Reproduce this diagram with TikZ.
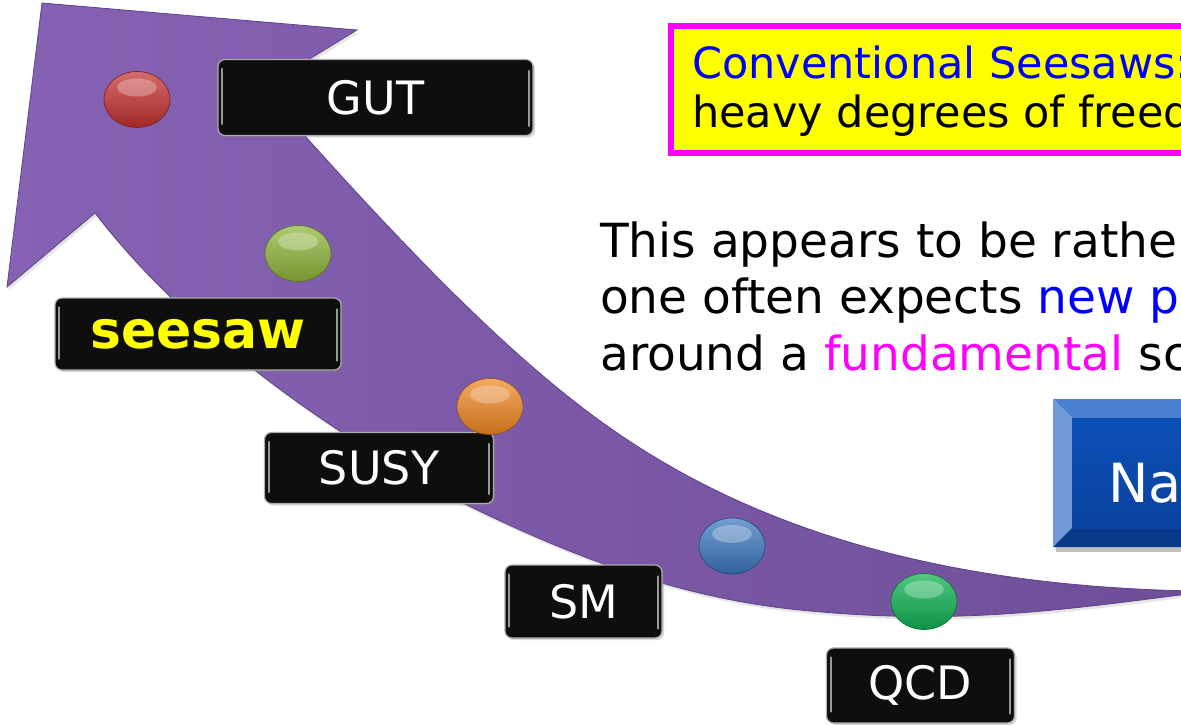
\documentclass[tikz,border=0pt]{standalone}
\usepackage{fontspec}
\setmainfont{DejaVu Sans}
\usetikzlibrary{shapes.geometric,shadows}
\definecolor{purpL}{RGB}{134,98,180}
\definecolor{purpR}{RGB}{110,78,152}
\definecolor{purpE}{RGB}{96,66,136}
\definecolor{dotred}{RGB}{196,50,48}
\definecolor{dotlime}{RGB}{142,182,58}
\definecolor{dotorange}{RGB}{240,136,36}
\definecolor{dotblue}{RGB}{60,120,192}
\definecolor{dotgreen}{RGB}{14,178,82}
\definecolor{boxblack}{RGB}{14,14,14}
\definecolor{pureblue}{RGB}{0,0,255}
\definecolor{puremag}{RGB}{255,0,255}
\definecolor{pureyel}{RGB}{255,255,0}
\definecolor{btnface}{RGB}{12,80,182}
\definecolor{btnfaceB}{RGB}{10,66,160}
\definecolor{btntop}{RGB}{74,128,208}
\definecolor{btnleft}{RGB}{112,153,213}
\definecolor{btnbot}{RGB}{8,56,136}
\tikzset{
  lbl/.style={draw=gray!65, line width=1.2, fill=boxblack, rounded corners=7,
    text=white, font=\fontsize{46}{50}\selectfont, inner sep=0,
    drop shadow={opacity=.3, shadow xshift=2pt, shadow yshift=-2pt}},
  dot/.style={ellipse, inner sep=0, minimum width=66, minimum height=56,
    top color=#1!72!white, bottom color=#1!82!black, draw=#1!60!black, line width=0.6},
  bodytext/.style={anchor=base west, inner sep=0, font=\fontsize{47}{56}\selectfont},
  boxtext/.style={anchor=base west, inner sep=0, font=\fontsize{43}{50}\selectfont},
  hl/.style={draw=gray!80, line width=2, line cap=round},
  arrowpath/.style={insert path={(42,3) -- (357,30) -- (262,88)
    .. controls (340,175) and (455,305) .. (560,390)
    .. controls (670,480) and (850,585) .. (1195,591)
    -- (1195,593)
    .. controls (1050,612) and (950,625) .. (800,610)
    .. controls (700,600) and (600,570) .. (471,507)
    .. controls (370,457) and (200,350) .. (95,213)
    -- (7,287) -- cycle}},
}
\begin{document}
\begin{tikzpicture}[x=1pt,y=-1pt]
\useasboundingbox (0,0) rectangle (1181,725);
\clip (0,0) rectangle (1181,725);
\fill[white] (0,0) rectangle (1181,725);

% curved arrow
\path[fill=black, opacity=.1, shift={(2,3)}, arrowpath];
\path[left color=purpL, right color=purpR, draw=purpE, line width=0.8, arrowpath];

% label boxes
\node[lbl, minimum width=315, minimum height=76] (gut) at (375.5,97.5) {GUT};
\node[lbl, minimum width=286, minimum height=72, text=pureyel, font=\fontsize{52}{56}\selectfont\bfseries] (seesaw) at (198,334) {seesaw};
\node[lbl, minimum width=229, minimum height=71] (susy) at (379,468) {SUSY};
\node[lbl, minimum width=157, minimum height=73] (sm) at (583.5,601.5) {SM};
\node[lbl, minimum width=188, minimum height=75] (qcd) at (920.5,685.5) {QCD};
\foreach \b in {gut,seesaw,susy,sm,qcd}{
  \draw[hl] ([xshift=5pt,yshift=-10pt]\b.north west) -- ([xshift=5pt,yshift=12pt]\b.south west);
  \draw[hl] ([xshift=-5pt,yshift=-12pt]\b.north east) -- ([xshift=-5pt,yshift=10pt]\b.south east);
}

% dots
\foreach \n/\x/\y/\c in {dred/137/99.5/dotred, dlime/298/253.5/dotlime, dorange/490/406.5/dotorange, dblue/732/546/dotblue, dgreen/924/601.5/dotgreen}{
  \node[dot=\c] (\n) at (\x,\y) {};
  \fill[white, opacity=.28] (\x,\y-12) ellipse (20 and 9);
}

% yellow box
\draw[puremag, line width=6, fill=pureyel] (671,26) rectangle (1220,153);
\node[boxtext, text=pureblue] (cs1) at (692,78) {Conventional Seesaws:};
\node[boxtext] (cs2) at (692,128) {heavy degrees of freedom};

% body text
\node[bodytext] (t1) at (600,257) {This appears to be rather};
\node[bodytext] (t2) at (600,313) {one often expects \textcolor{pureblue}{new physics}};
\node[bodytext] (t3) at (600,370) {around a \textcolor{puremag}{fundamental} scale};

% bevelled button
\fill[black, opacity=.25] (1056,403) rectangle (1230,552);
\fill[btntop] (1053,399) -- (1230,399) -- (1230,418) -- (1072,418) -- cycle;
\fill[btnleft] (1053,399) -- (1072,418) -- (1072,528) -- (1053,547) -- cycle;
\fill[btnbot] (1053,547) -- (1072,528) -- (1230,528) -- (1230,547) -- cycle;
\node[anchor=north west, inner sep=0, minimum width=158, minimum height=110,
  top color=btnface, bottom color=btnfaceB] (btn) at (1072,418) {};
\node[anchor=base west, inner sep=0, text=white, font=\fontsize{54}{60}\selectfont] (nat) at (1108,502) {Naturalness};
\end{tikzpicture}
\end{document}
